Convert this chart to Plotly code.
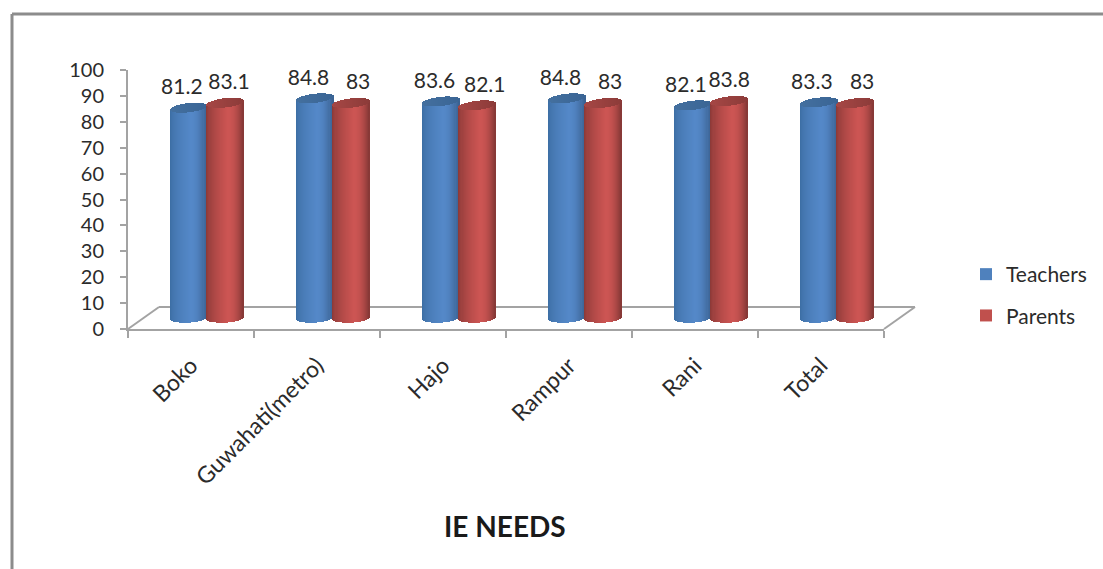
import numpy as np
import plotly.graph_objects as go

# Survey results by block
categories = ["Boko", "Guwahati(metro)", "Hajo", "Rampur", "Rani", "Total"]
teachers = [81.2, 84.8, 83.6, 84.8, 82.1, 83.3]
parents = [83.1, 83.0, 82.1, 83.0, 83.8, 83.0]
y_ticks = list(range(0, 101, 10))

# Horizontal nudges of the data labels, in category widths
teacher_label_shift = [-0.055, -0.05, -0.05, -0.05, -0.055, -0.055]
parent_label_shift = [0.03, 0.055, 0.06, 0.055, 0.0, 0.055]

W, H = 1103, 569
X0, X1 = 128, 884        # category axis span in px
Y0, Y100 = 329, 70       # value axis span in px
DEPTH_X, DEPTH_Y = 31, 22  # receding floor
PX_PER_CAT = (X1 - X0) / 6
PX_PER_UNIT = (Y0 - Y100) / 100
SHIFT_X = 16 / PX_PER_CAT   # cylinders stand mid-way back on the floor
SHIFT_Y = 11 / PX_PER_UNIT

BAR_W = 36.5 / PX_PER_CAT
OFFSET = 18.2 / PX_PER_CAT
ELLIPSE = 4.6 / PX_PER_UNIT
TILT = 2.0 / PX_PER_UNIT
STRIPS = 36

AXIS_GREY = "#a3a3a3"
TEXT = "#2b2b2b"
FONT = "Lato"


def rgb(hex_colour):
    return [int(hex_colour[i:i + 2], 16) for i in (1, 3, 5)]


def mix(a, b, t):
    return "#" + "".join(f"{int(round(p + (q - p) * t)):02x}" for p, q in zip(rgb(a), rgb(b)))


def shade(u, dark_l, bright, dark_r):
    # Cylinder lighting: brightest a little right of centre
    peak = 0.15
    if u < peak:
        return mix(dark_l, bright, min(1, ((u + 1) / (peak + 1)) ** 0.55))
    return mix(bright, dark_r, ((u - peak) / (1 - peak)) ** 2.0)


def cylinder_traces(values, centre_shift, name, flat, dark_l, bright, dark_r, cap_l, cap_r):
    xs = np.arange(len(values)) + centre_shift
    traces = [go.Bar(x=xs, y=values, width=BAR_W, name=name, legendgroup=name,
                     marker=dict(color=flat, line=dict(width=0)),
                     xaxis="x2", yaxis="y2", hoverinfo="skip")]
    sx, base, top, col, cbase, ctop, ccol = [], [], [], [], [], [], []
    step = BAR_W / STRIPS
    for xc, v in zip(xs, values):
        for k in range(STRIPS):
            u = -1 + (2 * k + 1) / STRIPS
            e = ELLIPSE * np.sqrt(1 - u * u)
            sx.append(xc + u * BAR_W / 2)
            base.append(-e + TILT * u * 0.5)
            top.append(v + TILT * u - e)
            col.append(shade(u, dark_l, bright, dark_r))
            cbase.append(v + TILT * u - e)
            ctop.append(2 * e)
            ccol.append(mix(cap_l, cap_r, (u + 1) / 2))
    heights = [t - b for t, b in zip(top, base)]
    traces.append(go.Bar(x=sx, y=heights, base=base, width=step, showlegend=False,
                         legendgroup=name, marker=dict(color=col, line=dict(width=0)),
                         xaxis="x2", yaxis="y2", hoverinfo="skip"))
    traces.append(go.Bar(x=sx, y=ctop, base=cbase, width=step, showlegend=False,
                         legendgroup=name, marker=dict(color=ccol, line=dict(width=0)),
                         xaxis="x2", yaxis="y2", hoverinfo="skip"))
    return traces


def label_trace(values, centre_shift, nudges):
    xs = np.arange(len(values)) + centre_shift + np.array(nudges)
    return go.Scatter(x=xs, y=[v + 7.3 for v in values], mode="text",
                      text=[f"{v:g}" for v in values], textposition="middle center",
                      textfont=dict(family=FONT, size=21, color=TEXT),
                      showlegend=False, xaxis="x2", yaxis="y2", hoverinfo="skip",
                      cliponaxis=False)


fig = go.Figure()
# Keeps the visible axis pair on the page; all marks live on the shifted pair
fig.add_trace(go.Scatter(x=[None], y=[None], mode="markers", showlegend=False, hoverinfo="skip"))
for tr in cylinder_traces(teachers, -OFFSET, "Teachers", "#4f81bd",
                          "#3a6ba0", "#5488c8", "#395f8e", "#44709f", "#3a6595"):
    fig.add_trace(tr)
for tr in cylinder_traces(parents, OFFSET, "Parents", "#c0504d",
                          "#843634", "#cc5553", "#833735", "#a64745", "#8c3b39"):
    fig.add_trace(tr)
fig.add_trace(label_trace(teachers, -OFFSET, teacher_label_shift))
fig.add_trace(label_trace(parents, OFFSET, parent_label_shift))

# Floor outline and outer frame
paper_x = lambda px: px / W
paper_y = lambda px: 1 - px / H
line = dict(color=AXIS_GREY, width=2)
shapes = [
    dict(type="line", xref="paper", yref="paper", layer="below", line=line,
         x0=paper_x(X0), y0=paper_y(Y0), x1=paper_x(X0 + DEPTH_X), y1=paper_y(Y0 - DEPTH_Y)),
    dict(type="line", xref="paper", yref="paper", layer="below", line=line,
         x0=paper_x(X0 + DEPTH_X), y0=paper_y(Y0 - DEPTH_Y), x1=paper_x(X1 + DEPTH_X), y1=paper_y(Y0 - DEPTH_Y)),
    dict(type="line", xref="paper", yref="paper", layer="below", line=line,
         x0=paper_x(X1 + DEPTH_X), y0=paper_y(Y0 - DEPTH_Y), x1=paper_x(X1), y1=paper_y(Y0)),
    dict(type="line", xref="paper", yref="paper", line=dict(color="#8c8c8c", width=3),
         x0=paper_x(12), y0=paper_y(14), x1=1, y1=paper_y(14)),
    dict(type="line", xref="paper", yref="paper", line=dict(color="#8c8c8c", width=3),
         x0=paper_x(12), y0=paper_y(14), x1=paper_x(12), y1=0),
]

fig.update_layout(
    width=W, height=H, margin=dict(l=0, r=0, t=0, b=0, autoexpand=False),
    paper_bgcolor="white", plot_bgcolor="white",
    barmode="overlay", bargap=0,
    font=dict(family=FONT, size=19, color=TEXT),
    shapes=shapes,
    xaxis=dict(domain=[X0 / W, X1 / W], range=[-0.5, 5.5], tickmode="array",
               tickvals=list(range(len(categories))), ticktext=categories, ticks="",
               tickangle=-45, tickfont=dict(family=FONT, size=23, color=TEXT),
               ticklabelstandoff=12, automargin=False,
               minor=dict(tickmode="array", tickvals=[i - 0.5 for i in range(7)], ticks="outside",
                          ticklen=7, tickwidth=2, tickcolor=AXIS_GREY, showgrid=False),
               showline=True, linecolor=AXIS_GREY, linewidth=2, showgrid=False, zeroline=False,
               fixedrange=True),
    yaxis=dict(domain=[1 - Y0 / H, 1 - Y100 / H], range=[0, 100], tickmode="array",
               tickvals=y_ticks, ticks="outside", ticklen=6, tickwidth=2, tickcolor=AXIS_GREY,
               tickfont=dict(family=FONT, size=20, color=TEXT), ticklabelstandoff=12, automargin=False,
               showline=True, linecolor=AXIS_GREY, linewidth=2, showgrid=False, zeroline=False,
               fixedrange=True),
    xaxis2=dict(domain=[X0 / W, X1 / W], range=[-0.5 - SHIFT_X, 5.5 - SHIFT_X], overlaying="x",
                visible=False, fixedrange=True),
    yaxis2=dict(domain=[1 - Y0 / H, 1 - Y100 / H], range=[-SHIFT_Y, 100 - SHIFT_Y], overlaying="y",
                visible=False, fixedrange=True),
    legend=dict(x=966 / W, y=1 - 254 / H, xanchor="left", yanchor="top",
                font=dict(family=FONT, size=21, color=TEXT), tracegroupgap=11,
                bgcolor="rgba(0,0,0,0)", itemclick=False, itemdoubleclick=False),
    annotations=[dict(text="<b>IE NEEDS</b>", xref="paper", yref="paper", x=505 / W, y=1 - 526 / H,
                      xanchor="center", yanchor="middle", showarrow=False,
                      font=dict(family=FONT, size=28, color="#1a1a1a"))],
)

fig.write_html("out.html", config=dict(displayModeBar=False))
